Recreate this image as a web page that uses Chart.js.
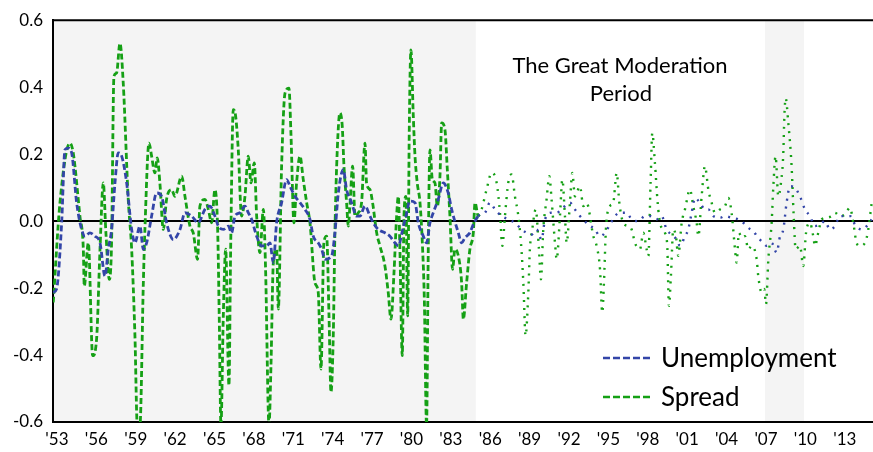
<!DOCTYPE html>
<html>
<head>
<meta charset="utf-8">
<script src="https://cdn.jsdelivr.net/npm/chart.js@4.4.0/dist/chart.umd.min.js"></script>
<style>
  html, body { margin: 0; padding: 0; background: #fff; }
  #wrap { width: 873px; height: 452px; position: relative; }
</style>
</head>
<body>
<div id="wrap"><canvas id="chart"></canvas></div>
<script>
// values (decimal years, deviations)
const unempYears = [1952.72,1952.97,1953.36,1953.61,1953.86,1954.12,1954.50,1954.88,1955.13,1955.51,1955.89,1956.28,1956.66,1956.91,1957.16,1957.42,1957.67,1957.93,1958.31,1958.69,1958.94,1959.32,1959.58,1959.83,1960.21,1960.59,1960.97,1961.35,1961.86,1962.37,1962.75,1963.26,1963.76,1964.27,1964.65,1965.03,1965.29,1965.67,1966.05,1966.30,1966.56,1966.94,1967.32,1967.57,1967.83,1968.21,1968.59,1968.97,1969.22,1969.48,1969.73,1970.11,1970.49,1970.75,1971.13,1971.51,1971.89,1972.27,1972.52,1972.90,1973.16,1973.41,1973.92,1974.17,1974.43,1974.81,1975.06,1975.44,1975.82,1976.08,1976.46,1976.84,1977.09,1977.47,1977.98,1978.36,1978.74,1979.00,1979.33,1979.58,1979.88,1980.27,1980.52,1980.90,1981.15,1981.41,1981.66,1982.04,1982.42,1982.80,1983.06,1983.57,1983.82,1984.07,1984.45,1984.71,1985.09,1985.60,1985.98,1986.36,1986.87,1987.37,1987.88,1988.39,1988.77,1989.15,1989.53,1989.91,1990.17,1990.67,1991.06,1991.44,1991.69,1992.07,1992.45,1992.83,1993.47,1993.97,1994.36,1994.74,1995.12,1995.50,1995.88,1996.39,1996.77,1997.28,1997.78,1998.16,1998.67,1999.05,1999.43,1999.81,2000.19,2000.45,2000.83,2001.08,2001.34,2001.59,2001.97,2002.35,2002.61,2002.99,2003.50,2003.88,2004.38,2004.89,2005.27,2005.65,2006.03,2006.41,2006.80,2007.05,2007.43,2007.81,2008.07,2008.32,2008.57,2008.83,2009.21,2009.59,2009.97,2010.35,2010.73,2011.11,2011.49,2011.87,2012.25,2012.63,2013.02,2013.40,2013.78,2014.28,2014.67,2015.05];
const unempValues = [-0.213,-0.203,-0.005,0.213,0.218,0.204,0.055,-0.025,-0.045,-0.035,-0.045,-0.065,-0.164,-0.084,-0.025,0.114,0.204,0.194,0.114,-0.025,-0.065,-0.015,-0.084,-0.065,0.015,0.084,0.074,-0.005,-0.055,-0.025,0.025,0.015,-0.005,0.035,0.045,0.015,-0.015,-0.025,-0.015,-0.035,0.015,0.025,0.045,0.025,0.005,-0.045,-0.074,-0.074,-0.065,-0.124,-0.005,0.055,0.124,0.104,0.074,0.055,0.035,0.005,-0.045,-0.065,-0.084,-0.114,-0.104,-0.035,0.084,0.154,0.094,0.055,0.015,0.015,0.045,0.015,-0.005,-0.025,-0.035,-0.045,-0.065,-0.074,-0.025,0.015,0.060,0.055,-0.005,-0.045,-0.065,-0.005,0.025,0.065,0.114,0.084,0.035,-0.035,-0.065,-0.05,-0.035,-0.01,0.015,0.025,0.055,0.035,0.015,0.005,-0.005,-0.025,-0.035,-0.040,-0.025,-0.055,0.005,0.025,0.025,0.035,0.045,0.055,0.035,0.015,-0.01,-0.025,-0.045,-0.035,-0.01,0.015,0.025,0.025,0.005,0.0,0.015,0.015,0.005,0.015,-0.025,-0.040,-0.055,-0.074,-0.045,-0.025,0.025,0.069,0.055,0.035,0.035,0.015,0.010,0.015,0.010,0.005,-0.005,-0.020,-0.030,-0.050,-0.065,-0.074,-0.065,-0.094,-0.045,-0.025,0.055,0.104,0.099,0.074,0.035,0.015,-0.015,-0.010,0.0,-0.025,-0.015,0.015,0.015,0.015,-0.010,-0.025,-0.015,0.005];

const spreadYears = [1952.72,1953.23,1953.99,1954.24,1954.75,1955.01,1955.08,1955.39,1955.72,1956.02,1956.28,1956.53,1956.73,1956.99,1957.16,1957.34,1957.54,1957.80,1958.05,1958.43,1958.69,1958.94,1959.12,1959.32,1959.58,1959.70,1960.01,1960.21,1960.46,1960.64,1960.84,1961.10,1961.35,1961.73,1961.99,1962.50,1962.75,1963.13,1963.38,1963.71,1963.89,1964.27,1964.53,1964.78,1965.03,1965.24,1965.36,1965.49,1965.67,1965.85,1966.10,1966.23,1966.43,1966.61,1966.81,1967.06,1967.32,1967.57,1967.78,1968.03,1968.21,1968.46,1968.72,1968.89,1969.15,1969.30,1969.48,1969.73,1969.86,1970.11,1970.37,1970.67,1970.82,1971.05,1971.25,1971.51,1971.76,1972.02,1972.27,1972.65,1972.90,1973.11,1973.33,1973.54,1973.72,1973.87,1974.05,1974.17,1974.35,1974.55,1974.73,1974.86,1975.06,1975.19,1975.31,1975.52,1975.70,1975.95,1976.20,1976.46,1976.58,1976.84,1977.04,1977.35,1977.60,1977.98,1978.23,1978.44,1978.67,1978.87,1979.00,1979.12,1979.30,1979.43,1979.58,1979.71,1979.83,1979.96,1980.14,1980.27,1980.44,1980.65,1980.85,1980.98,1981.15,1981.28,1981.41,1981.59,1981.79,1981.97,1982.17,1982.30,1982.55,1982.73,1982.93,1983.13,1983.31,1983.57,1983.82,1983.95,1984.20,1984.45,1984.71,1984.84,1985.09,1985.34,1985.72,1986.10,1986.49,1986.74,1986.92,1987.12,1987.37,1987.63,1987.88,1988.14,1988.34,1988.52,1988.69,1988.90,1989.02,1989.20,1989.46,1989.71,1989.86,1990.04,1990.29,1990.50,1990.67,1990.93,1991.06,1991.31,1991.49,1991.69,1991.82,1992.07,1992.25,1992.45,1992.83,1993.09,1993.34,1993.85,1994.10,1994.36,1994.53,1994.66,1994.81,1995.12,1995.37,1995.63,1995.83,1996.13,1996.51,1996.77,1997.02,1997.40,1997.66,1997.91,1998.04,1998.21,1998.34,1998.54,1998.75,1998.93,1999.31,1999.48,1999.61,1999.76,1999.94,2000.14,2000.32,2000.58,2000.83,2001.21,2001.46,2001.72,2001.85,2002.10,2002.35,2002.61,2002.86,2003.11,2003.50,2003.88,2004.13,2004.38,2004.64,2004.76,2004.94,2005.15,2005.40,2005.65,2005.91,2006.29,2006.41,2006.67,2006.87,2007.00,2007.18,2007.43,2007.56,2007.73,2007.94,2008.14,2008.32,2008.40,2008.50,2008.70,2008.95,2009.11,2009.26,2009.59,2009.84,2010.05,2010.35,2010.60,2010.73,2010.98,2011.24,2011.62,2012.00,2012.25,2012.63,2013.02,2013.40,2013.65,2013.90,2014.16,2014.54,2014.79,2015.05];
const spreadValues = [-0.243,0.055,0.233,0.204,0.015,-0.084,-0.194,-0.065,-0.402,-0.352,-0.084,0.114,-0.035,-0.174,-0.065,0.432,0.442,0.531,0.412,0.065,-0.084,-0.342,-0.61,-0.61,-0.184,-0.025,0.233,0.194,0.144,0.189,0.114,-0.025,0.065,0.094,0.074,0.134,0.074,-0.015,-0.035,-0.114,0.045,0.065,0.035,-0.005,0.094,-0.025,-0.283,-0.61,-0.283,-0.084,-0.491,-0.084,0.333,0.313,0.213,0.015,0.074,0.194,0.114,0.174,0.015,-0.094,0.035,-0.144,-0.61,-0.432,-0.124,-0.084,-0.263,0.164,0.382,0.397,0.263,-0.005,0.114,0.194,0.124,0.055,-0.005,-0.184,-0.213,-0.442,-0.065,-0.045,-0.283,-0.511,-0.333,-0.035,0.213,0.323,0.283,0.164,0.055,-0.015,0.045,0.164,0.015,0.025,0.055,0.233,0.114,0.094,0.055,-0.035,-0.074,-0.134,-0.213,-0.293,-0.154,0.015,0.074,-0.084,-0.402,0.015,0.074,-0.283,0.263,0.511,0.313,0.194,0.114,0.055,-0.084,-0.233,-0.61,-0.084,0.213,0.124,0.114,0.045,0.134,0.293,0.273,0.154,0.015,-0.144,-0.084,-0.104,-0.184,-0.293,-0.184,-0.084,-0.035,0.055,0.015,0.035,0.094,0.144,0.114,0.025,-0.074,0.015,0.114,0.139,0.074,0.015,-0.065,-0.184,-0.342,-0.213,-0.084,-0.025,0.035,-0.084,-0.174,-0.025,0.065,0.134,0.065,-0.065,-0.114,0.015,0.124,0.015,-0.065,0.055,0.144,0.074,0.104,0.045,0.055,-0.045,-0.074,-0.144,-0.273,-0.184,-0.025,0.045,0.055,0.144,0.055,-0.005,-0.015,-0.025,-0.065,-0.084,-0.035,-0.084,-0.104,0.114,0.263,0.174,0.055,-0.005,-0.035,-0.074,-0.253,-0.164,-0.025,-0.045,-0.104,-0.005,0.035,0.094,0.045,-0.005,-0.045,0.074,0.164,0.094,0.055,0.025,0.035,0.045,0.069,0.025,-0.084,-0.124,-0.035,-0.050,-0.045,-0.084,-0.074,-0.114,-0.164,-0.213,-0.203,-0.248,-0.114,-0.005,0.104,0.194,0.074,0.114,0.204,0.313,0.367,0.293,0.164,0.015,-0.084,-0.074,-0.134,-0.035,-0.005,-0.045,-0.074,-0.035,0.005,0.010,0.015,0.025,0.015,0.020,0.040,-0.005,-0.065,-0.074,-0.065,-0.025,0.055];

const tickYears = [1953,1956,1959,1962,1965,1968,1971,1974,1977,1980,1983,1986,1989,1992,1995,1998,2001,2004,2007,2010,2013];
const shadedPeriods = [[1952.7, 1984.9], [2006.92, 2009.9]];
const moderationStart = 1985;

const BLUE = '#3345a8';
const GREEN = '#15a015';

Chart.defaults.font.family = "Lato, 'Noto Sans', sans-serif";
Chart.defaults.color = '#000';

const toPoints = (xs, ys) => xs.map((x, i) => ({ x, y: ys[i] }));
const era = (pre, post) => ctx => (ctx.p0.parsed.x >= moderationStart ? post : pre);

const decor = {
  id: 'decor',
  beforeDraw(chart) {
    const { ctx, chartArea: a, scales: { x } } = chart;
    ctx.save();
    ctx.fillStyle = '#f4f4f4';
    shadedPeriods.forEach(([from, to]) => {
      const x0 = Math.max(a.left, x.getPixelForValue(from));
      const x1 = Math.min(a.right, x.getPixelForValue(to));
      ctx.fillRect(x0, a.top, x1 - x0, a.bottom - a.top);
    });
    ctx.restore();
  },
  afterDraw(chart) {
    const { ctx, chartArea: a } = chart;
    ctx.save();
    // top frame line
    ctx.strokeStyle = '#000';
    ctx.lineWidth = 2;
    ctx.beginPath();
    ctx.moveTo(a.left - 1, a.top);
    ctx.lineTo(a.right, a.top);
    ctx.stroke();

    // annotation
    ctx.fillStyle = '#000';
    ctx.textAlign = 'center';
    ctx.font = "22px Lato, 'Noto Sans', sans-serif";
    ctx.fillText('The Great Moderation', 620, 73);
    ctx.fillText('Period', 621, 101);

    // legend inside the plot
    ctx.textAlign = 'left';
    ctx.font = "26px Lato, 'Noto Sans', sans-serif";
    chart.data.datasets.forEach((ds, i) => {
      const y = 358 + i * 39;
      ctx.strokeStyle = ds.borderColor;
      ctx.lineWidth = 2.6;
      ctx.setLineDash([7, 3]);
      ctx.beginPath();
      ctx.moveTo(603, y);
      ctx.lineTo(652, y);
      ctx.stroke();
      ctx.setLineDash([]);
      ctx.fillText(ds.label, 661, y + 9);
    });
    ctx.restore();
  }
};

new Chart(document.getElementById('chart'), {
  type: 'line',
  data: {
    datasets: [
      {
        label: 'Unemployment',
        data: toPoints(unempYears, unempValues),
        borderColor: BLUE,
        borderWidth: 2.8,
        pointRadius: 0,
        cubicInterpolationMode: 'monotone',
        segment: { borderDash: era([6, 3], [2, 6]), borderWidth: era(2.8, 2.4) },
      },
      {
        label: 'Spread',
        data: toPoints(spreadYears, spreadValues),
        borderColor: GREEN,
        borderWidth: 2.8,
        pointRadius: 0,
        cubicInterpolationMode: 'monotone',
        segment: { borderDash: era([6, 3], [2, 6]), borderWidth: era(2.8, 2.4) },
      },
    ],
  },
  options: {
    responsive: true,
    maintainAspectRatio: false,
    animation: false,
    layout: { padding: { top: 18, right: 0, left: 0, bottom: 0 } },
    plugins: { legend: { display: false }, tooltip: { enabled: false } },
    scales: {
      x: {
        type: 'linear',
        min: 1952.7,
        max: 2015.15,
        afterBuildTicks: s => { s.ticks = tickYears.map(v => ({ value: v })); },
        afterFit: s => { s.height = 30; },
        ticks: {
          font: { size: 17 },
          padding: 7,
          maxRotation: 0,
          autoSkip: false,
          callback: v => "'" + String(v).slice(2),
        },
        grid: { display: false, drawTicks: false },
        border: { display: true, color: '#000', width: 2 },
      },
      y: {
        min: -0.6,
        max: 0.6,
        afterFit: s => { s.width = 53; },
        ticks: { stepSize: 0.2, font: { size: 17 }, padding: 10, callback: v => Number(v).toFixed(1) },
        grid: {
          drawTicks: false,
          color: c => (Math.abs(c.tick.value) < 1e-9 ? '#000' : 'rgba(0,0,0,0)'),
          lineWidth: c => (Math.abs(c.tick.value) < 1e-9 ? 2 : 0),
        },
        border: { display: true, color: '#000', width: 2 },
      },
    },
  },
  plugins: [decor],
});
</script>
</body>
</html>
